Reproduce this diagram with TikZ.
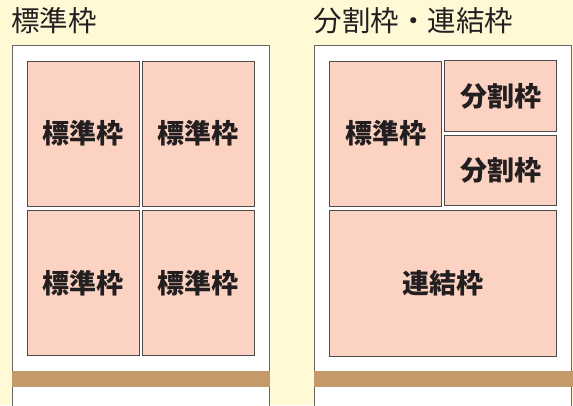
\documentclass[tikz,border=0pt]{standalone}
\usepackage{fontspec}
\newfontfamily\jp{Noto Sans CJK JP}
\definecolor{cream}{HTML}{FFF9D6}
\definecolor{pinkbox}{HTML}{FCD3C2}
\definecolor{band}{HTML}{C49A6A}
\definecolor{ink}{HTML}{231F20}
\tikzset{
  koma/.style={draw=black!70, line width=1pt, fill=pinkbox, inner sep=0pt,
    text=ink, font=\jp\bfseries\fontsize{27}{27}\selectfont},
  title/.style={anchor=west, inner sep=0pt, text=ink,
    font=\jp\fontsize{28.5}{28.5}\selectfont},
  page/.style={draw=black!60, line width=0.9pt, fill=white}
}
\begin{document}
\begin{tikzpicture}[x=1pt,y=-1pt]
    \useasboundingbox (0,0) rectangle (573,405);
    \clip (0,0) rectangle (573,405);
    \fill[cream] (0,0) rectangle (573,405);
    \node[title] (t1) at (11,21) {標準枠};
    \node[title] (t2) at (313.5,20.5) {分割枠・連結枠};
    \draw[page] (12,410) -- (12,45.5) -- (269,45.5) -- (269,410);
    \draw[page] (314,410) -- (314,45.5) -- (571.7,45.5) -- (571.7,410);
    \fill[band] (11.5,371) rectangle (269.5,387);
    \fill[band] (313.5,371) rectangle (573,387);
    \node[koma, minimum width=112pt, minimum height=145pt] (s1) at (83,133.5) {標準枠};
    \node[koma, minimum width=112pt, minimum height=145pt] (s2) at (198.3,133.5) {標準枠};
    \node[koma, minimum width=112pt, minimum height=145.5pt] (s3) at (83,282.8) {標準枠};
    \node[koma, minimum width=112pt, minimum height=145.5pt] (s4) at (198.3,282.8) {標準枠};
    \node[koma, minimum width=112.4pt, minimum height=145pt] (h1) at (385.5,133.5) {標準枠};
    \node[koma, minimum width=112pt, minimum height=70.7pt] (b1) at (500.7,96.3) {分割枠};
    \node[koma, minimum width=112pt, minimum height=70.3pt] (b2) at (500.7,170.8) {分割枠};
    \node[koma, minimum width=227.4pt, minimum height=146pt] (r1) at (443,283) {連結枠};
\end{tikzpicture}
\end{document}
